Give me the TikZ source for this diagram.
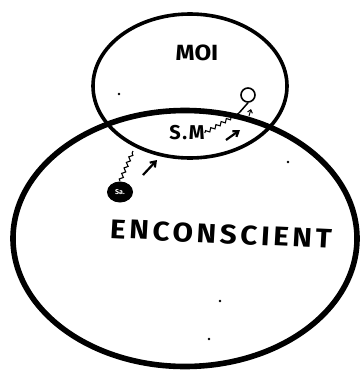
\documentclass[tikz,border=0pt]{standalone}
\usepackage{fontspec}
\setmainfont{Fira Sans}
\usetikzlibrary{arrows.meta,shapes.geometric,decorations.pathmorphing}

\begin{document}
\begin{tikzpicture}[
    x=1pt, y=-1pt,
    >={Straight Barb[length=5pt,width=7pt]},
    zone/.style={draw, ellipse, inner sep=0pt, outer sep=0pt},
    label/.style={font=\bfseries, inner sep=0pt},
    squig/.style={line width=1.1pt, decorate,
                  decoration={snake, amplitude=1.6pt, segment length=6pt}},
    push/.style={->, line width=2.2pt},
    speck/.style={fill, circle, inner sep=0pt, minimum size=2.6pt},
  ]
    \useasboundingbox (0,0) rectangle (360,370);

    % --- the two zones ----------------------------------------------------
    \node[zone, line width=5.6pt, minimum width=344pt, minimum height=256pt]
      (inc) at (185,238.5) {};
    \node[zone, line width=3.6pt, minimum width=194pt, minimum height=144pt]
      (moi) at (190,86) {};

    % --- labels -----------------------------------------------------------
    \node[label, font=\bfseries\fontsize{22}{22}\selectfont, xscale=1.1] (tmoi) at (197,53) {MOI};
    \node[label, font=\bfseries\fontsize{20}{20}\selectfont\addfontfeature{LetterSpace=8}]
      (sm) at (187,133) {S.M};
    \node[label, font=\bfseries\fontsize{27}{27}\selectfont\addfontfeature{LetterSpace=12},
          xscale=1.1, rotate=-3] (tinc) at (221,234) {ENCONSCIENT};

    % --- Sa. and the little figure ---------------------------------------
    \node[fill, ellipse, minimum width=26pt, minimum height=21pt, inner sep=0pt,
          text=white, font=\bfseries\fontsize{7}{7}\selectfont] (sa) at (120,192) {Sa.};
    \node[draw, circle, line width=1.6pt, minimum size=14pt, inner sep=0pt] (tete) at (248,95) {};
    \coordinate (pied) at (239,113);
    \coordinate (bord) at (133,151);

    % --- connectors -------------------------------------------------------
    \draw[line width=1.5pt] (tete.south) -- (pied);
    \draw[squig] (sa.north) -- (bord);
    \draw[squig] (sm.east) -- (pied);

    \coordinate (a1) at (143,175);  \coordinate (b1) at (157,160);
    \coordinate (a2) at (226,140);  \coordinate (b2) at (240,130);
    \coordinate (a3) at (249,116);  \coordinate (b3) at (251,109);
    \draw[push] (a1) -- (b1);
    \draw[push] (a2) -- (b2);
    \draw[->, line width=1pt, >={Straight Barb[length=3pt,width=5pt]}] (a3) -- (b3);

    % --- stray specks ----------------------------------------------------
    \node[speck] (p1) at (119,94) {};
    \node[speck] (p2) at (288,162) {};
    \node[speck] (p3) at (220,301) {};
    \node[speck] (p4) at (209,339) {};
\end{tikzpicture}
\end{document}
